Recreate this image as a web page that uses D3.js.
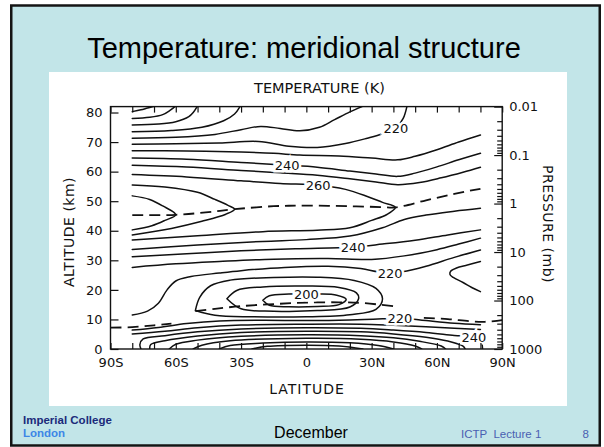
<!DOCTYPE html>
<html>
<head>
<meta charset="utf-8">
<script src="https://cdn.jsdelivr.net/npm/d3@7"></script>
<style>
  html, body { margin: 0; padding: 0; background: #fff; }
  svg { display: block; }
</style>
</head>
<body>
<svg id="slide" width="604" height="447"></svg>
<script>
// ---- Axis ticks and labels ----
const latTicks = [-90,-80,-70,-60,-50,-40,-30,-20,-10,0,10,20,30,40,50,60,70,80,90];
const latLabels = {"-90":"90S","-60":"60S","-30":"30S","0":"0","30":"30N","60":"60N","90":"90N"};
const altTicks = [0,10,20,30,40,50,60,70,80];
const pressMajor = [1000,100,10,1,0.1,0.01];
const pressLabels = ["1000","100","10","1","0.1","0.01"];

// ---- Isotherms, [latitude (deg), altitude (km)] ----
// upper mesosphere, running into the top of the frame
const mesoTop = [
  [[-80,80.3],[-76,80.9],[-73,81.5],[-70.4,82]],
  [[-80,78],[-72,78.4],[-66,79.3],[-62.5,80.8],[-60.4,82]],
  [[-80,75.8],[-68,76.1],[-60,76.9],[-54,78.6],[-52,80],[-50.2,82]],
  [[-80,73.5],[-62,73.9],[-48,75],[-38,77.2],[-33,79.5],[-30.5,82]],
  [[-80,71.3],[-60,71.6],[-42,72.6],[-30,74.2],[-21,75.3],[-12,74.6],[-3,73.8],[6,75],[13,77.6],[20,80.2],[25.6,82]],
  [[-80,69.3],[-60,69.4],[-40,69.7],[-22,70.2],[-8,68.6],[5,68.2],[18,69.5],[28,71.3],[35,72.8],[41.2,74.8],[44.5,78],[46.2,82]]
];
// mesosphere, pole to pole
const mesoAcross = [
  [[-80,67.1],[-55,67],[-30,66.6],[-15,66.2],[-3,65.6],[15,65.3],[30,64.6],[42,64],[50,65.2],[60,67.4],[70,70],[80,72.4]],
  [[-80,64.6],[-55,64.2],[-30,63.1],[-8.8,62.2],[5,61.5],[20,60.2],[32,59.2],[42,58.4],[50,59.5],[60,61.6],[70,64],[80,66.2]],
  [[-80,62.2],[-55,61.6],[-30,60.4],[-12,59.6],[5,58.8],[20,57.6],[32,56.5],[42,55.6],[52,56.3],[62,57.9],[72,59.8],[80,61.5]]
];
// warm stratopause tongues, closing back to the summer pole
const stratoNoses = [
  [[-80,59],[-55,58.2],[-30,56.9],[-12,56],[5.4,55.5],[18,54],[28,51.6],[35,49.6],[40.9,47.9],[37,45.5],[30,43.5],[20,41],[5,40.2],[-20,39.7],[-50,38.3],[-80,36.9]],
  [[-80,55.5],[-65,54.8],[-50,53],[-42,50.6],[-36,48.6],[-33,47.3],[-37,45.6],[-48,43.2],[-62,40.8],[-80,38.6]],
  [[-80,51.8],[-72,50.6],[-66,48.4],[-60,45.4],[-65,43.5],[-71,41.7],[-80,40.3]]
];
// lower stratosphere
const stratoLower = [
  [[-80,33.7],[-50,35.2],[-20,36.4],[0,37],[20,38.2],[35,41],[45,43.8],[55,45.3],[68,46.6],[80,47.6]],
  [[-80,31.2],[-55,32.2],[-30,33.2],[-5,33.9],[21.5,34.5],[35,35.5],[50,36.8],[65,38.6],[80,40.3]],
  [[-80,27.6],[-60,28.8],[-40,29.6],[-15,30.4],[10,30.6],[30,30.3],[45,31.5],[60,33.6],[70,35.5],[80,37.5]],
  [[-80,11.5],[-73,12.8],[-68,15.5],[-64,20],[-60,23],[-53,24.5],[-40,25.7],[-30,26.5],[-10,27.6],[10,28],[25,27.2],[33,26.1],[38.5,25.7],[44,26.1],[55,28],[68,31],[80,33.5]]
];
// winter polar vortex
const polarCold = [
  [[80,29.6],[74,28.4],[69,27.4],[66.3,26.3],[66,25.2],[67.5,24.2],[72,22.5],[76,20.8],[80,19.4]]
];
// cold tropical tropopause, closed rings
const tropicRings = [
  [[-20,16.5],[-17,18],[-8,18.6],[5,18.6],[14,18.2],[18.3,16.8],[15,15],[5,14.4],[-8,14.3],[-17,14.8],[-20,16.5]],
  [[-36.5,17],[-32,19.8],[-20,21],[0,21.3],[15,20.8],[23,19],[24,17],[20,14.2],[5,13],[-15,12.8],[-30,13.6],[-36.5,17]],
  [[-51,13],[-49,17.5],[-44,21.4],[-35,23.3],[-15,24.2],[5,24.3],[22,23.2],[32,20.5],[35,17],[32,13.4],[20,11.6],[0,10.9],[-25,10.9],[-42,11.4],[-51,13]]
];
// troposphere
const tropoLines = [
  [[-80,6.4],[-68,7.3],[-55,8.6],[-40,9.5],[-20,9.7],[0,9.6],[20,9.8],[35,10.2],[43,10.5],[55,9.6],[68,8.7],[80,8.2]],
  [[-80,5.1],[-65,6],[-50,7.2],[-30,8.1],[0,8.4],[25,8.4],[40,8],[55,7.5],[68,7],[80,6.6]],
  [[-76,0],[-76.5,1.5],[-75,3.4],[-65,4.5],[-50,5.8],[-30,6.8],[0,7.2],[25,7],[40,6.4],[55,5.6],[68,4.6],[77,4],[80.5,2],[81,0]],
  [[-72,0],[-71.5,1.5],[-65,2.8],[-50,4.4],[-30,5.6],[0,6],[25,5.8],[40,5.1],[55,4],[65,2.7],[72,1],[73,0]],
  [[-63,0],[-60,1.6],[-50,3],[-30,4.3],[0,4.8],[25,4.5],[40,3.8],[52,2.6],[62,1],[64,0]],
  [[-52,0],[-48,1.3],[-35,2.8],[0,3.6],[25,3.3],[40,2.4],[50,1],[53,0]],
  [[-40,0],[-35,1.2],[-20,2],[0,2.4],[20,2.1],[33,1.2],[40,0]],
  [[-25,0],[-18,0.9],[0,1.3],[15,1],[26,0]]
];
// stratopause and tropopause (dashed)
const stratopause = [[-80,45.3],[-60,45.4],[-45,46.3],[-33,47.3],[-15,48.3],[0,48.5],[20,48.3],[35,48],[41,47.9],[55,50.3],[68,52.5],[80,54.2]];
const tropopause = [
  [[-90,7.2],[-80,7.4],[-70,8],[-62,8.6]],
  [[-51,12.8],[-42,13.6],[-30,14.5],[-15,15.2],[0,15.7],[15,15.8],[25,15.6],[40,14.5]],
  [[54,10.5],[65,10.1],[75,9.4],[82,9.2],[90,9.8]]
];
// isotherm labels: text, latitude, altitude
const isoLabels = [
  ["220",41.2,74.8],["240",-8.8,62.2],["260",5.4,55.5],["240",21.5,34.5],
  ["220",38.5,25.7],["200",0,18.5],["220",43,10.5],["240",77,4]
];

// ---- Slide frame ----
const svg = d3.select("#slide");
const slideFont = "Liberation Sans, Arial, sans-serif";
svg.append("rect").attr("x",11.25).attr("y",5.5).attr("width",588.5).attr("height",440)
  .attr("fill","#c2e5e8").attr("stroke","#141414").attr("stroke-width",2.5);
svg.append("rect").attr("x",49).attr("y",72).attr("width",518).attr("height",334).attr("fill","#fff");

svg.append("text").attr("x",304).attr("y",58).attr("text-anchor","middle")
  .attr("font-family",slideFont).attr("font-size",29).attr("fill","#000")
  .text("Temperature: meridional structure");

// footer
svg.append("text").attr("x",23).attr("y",424).attr("font-family",slideFont)
  .attr("font-size",11.5).attr("font-weight","bold").attr("fill","#1b2a7a").text("Imperial College");
svg.append("text").attr("x",23).attr("y",436.5).attr("font-family",slideFont)
  .attr("font-size",11.5).attr("font-weight","bold").attr("fill","#3d86e6").text("London");
svg.append("text").attr("x",311).attr("y",438).attr("text-anchor","middle").attr("font-family",slideFont)
  .attr("font-size",16).attr("fill","#000").text("December");
svg.append("text").attr("x",461).attr("y",438).attr("font-family",slideFont)
  .attr("font-size",11.5).attr("fill","#4a5fb2").attr("xml:space","preserve").text("ICTP  Lecture 1");
svg.append("text").attr("x",582.5).attr("y",438).attr("font-family",slideFont)
  .attr("font-size",11.5).attr("fill","#4a5fb2").text("8");

// ---- Chart ----
const figFont = "DejaVu Sans, Verdana, sans-serif";
const x = d3.scaleLinear().domain([-90,90]).range([110.5,502.2]);
const y = d3.scaleLinear().domain([0,82]).range([349,106.6]);
const p = d3.scaleLog().domain([1000,0.01]).range([349,106.6]);

const chart = svg.append("g").attr("font-family", figFont).attr("fill","#111");

chart.append("defs").append("clipPath").attr("id","plotClip").append("rect")
  .attr("x",x(-90)).attr("y",y(82)).attr("width",x(90)-x(-90)).attr("height",y(0)-y(82));

const iso = d3.line().x(d => x(d[0])).y(d => y(d[1])).curve(d3.curveCatmullRom.alpha(0.5));

const plot = chart.append("g").attr("clip-path","url(#plotClip)");
const solid = [].concat(mesoTop, mesoAcross, stratoNoses, stratoLower, polarCold, tropicRings, tropoLines);
plot.selectAll("path.iso").data(solid).join("path").attr("class","iso")
  .attr("d", iso).attr("fill","none").attr("stroke","#111").attr("stroke-width",1.5)
  .attr("stroke-linejoin","round").attr("stroke-linecap","round");
plot.selectAll("path.pause").data([stratopause].concat(tropopause)).join("path").attr("class","pause")
  .attr("d", iso).attr("fill","none").attr("stroke","#111").attr("stroke-width",1.8)
  .attr("stroke-dasharray","11,6");

// isotherm labels sitting in gaps of their lines
plot.selectAll("text.iso-label").data(isoLabels).join("text").attr("class","iso-label")
  .attr("x", d => x(d[1])).attr("y", d => y(d[2])).attr("dy","0.36em").attr("text-anchor","middle")
  .attr("font-size",13).attr("fill","#111").attr("stroke","#fff").attr("stroke-width",5)
  .attr("paint-order","stroke").text(d => d[0]);

// axes
const axL = chart.append("g").attr("transform",`translate(${x(-90)},0)`)
  .call(d3.axisLeft(y).tickValues(altTicks).tickSizeInner(-8).tickSizeOuter(0).tickPadding(8));
const axB = chart.append("g").attr("transform",`translate(0,${y(0)})`)
  .call(d3.axisBottom(x).tickValues(latTicks).tickSizeInner(-6).tickSizeOuter(0).tickPadding(6)
    .tickFormat(d => latLabels[d] || ""));
const axT = chart.append("g").attr("transform",`translate(0,${y(82)})`)
  .call(d3.axisTop(x).tickValues(latTicks).tickSizeInner(-6).tickSizeOuter(0).tickFormat(""));
const minor = [];
[1000,100,10,1,0.1].forEach(dec => { for (let k = 2; k <= 9; k++) minor.push(dec * k / 10); });
const axRm = chart.append("g").attr("transform",`translate(${x(90)},0)`)
  .call(d3.axisRight(p).tickValues(minor).tickSizeInner(-5).tickSizeOuter(0).tickFormat(""));
const axR = chart.append("g").attr("transform",`translate(${x(90)},0)`)
  .call(d3.axisRight(p).tickValues(pressMajor).tickSizeInner(-8).tickSizeOuter(0).tickPadding(7)
    .tickFormat((d,i) => pressLabels[i]));
[axL, axB, axT, axRm, axR].forEach(a => {
  a.select(".domain").remove();
  a.attr("font-family", figFont).attr("font-size",13);
  a.selectAll(".tick line").attr("stroke","#111").attr("stroke-width",1.2);
  a.selectAll(".tick text").attr("fill","#111");
});
axB.selectAll(".tick text").attr("dy","0.9em");

chart.append("rect").attr("x",x(-90)).attr("y",y(82)).attr("width",x(90)-x(-90)).attr("height",y(0)-y(82))
  .attr("fill","none").attr("stroke","#111").attr("stroke-width",1.4);

// axis titles
chart.append("text").attr("x",319.5).attr("y",93).attr("text-anchor","middle").attr("font-size",14.5)
  .text("TEMPERATURE (K)");
chart.append("text").attr("x",307).attr("y",394).attr("text-anchor","middle").attr("font-size",14)
  .attr("letter-spacing",1).text("LATITUDE");
chart.append("text").attr("transform","translate(74,232) rotate(-90)").attr("text-anchor","middle")
  .attr("font-size",14).attr("letter-spacing",0.5).text("ALTITUDE (km)");
chart.append("text").attr("transform","translate(543,224) rotate(90)").attr("text-anchor","middle")
  .attr("font-size",14).attr("letter-spacing",0.5).text("PRESSURE (mb)");
</script>
</body>
</html>
